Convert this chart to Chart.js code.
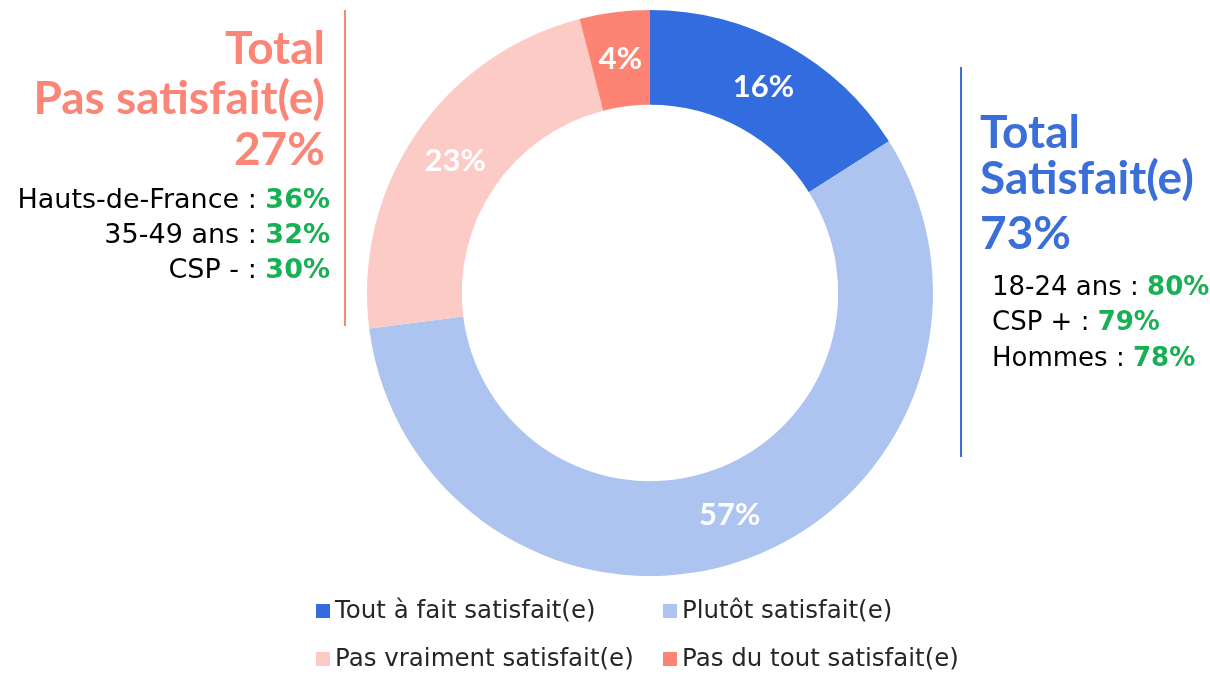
<!DOCTYPE html>
<html>
<head>
<meta charset="utf-8">
<script src="https://cdn.jsdelivr.net/npm/chart.js@4.4.1/dist/chart.umd.min.js"></script>
<style>
  html, body { margin: 0; padding: 0; background: #fff; }
  #wrap { width: 1210px; height: 674px; position: relative; }
</style>
</head>
<body>
<div id="wrap"><canvas id="satChart" width="1210" height="674"></canvas></div>
<script>
// data
const labels = ['Tout à fait satisfait(e)', 'Plutôt satisfait(e)', 'Pas vraiment satisfait(e)', 'Pas du tout satisfait(e)'];
const values = [16, 57, 23, 4];
const colors = ['#336CDE', '#ADC4F1', '#FDCBC5', '#FD8474'];

const totalSatLines = ['Total', 'Satisfait(e)', '73%'];
const totalPasLines = ['Total', 'Pas satisfait(e)', '27%'];
const satDetails = [['18-24 ans : ', '80%'], ['CSP + : ', '79%'], ['Hommes : ', '78%']];
const pasDetails = [['Hauts-de-France : ', '36%'], ['35-49 ans : ', '32%'], ['CSP - : ', '30%']];

const TITLE_FONT = 'Lato, "DejaVu Sans", sans-serif';
const BODY_FONT = '"DejaVu Sans", sans-serif';
const GREEN = '#17B055';

// percent labels inside the ring
const sliceLabels = {
    id: 'sliceLabels',
    afterDatasetsDraw(chart) {
        let ctx = chart.ctx;
        let meta = chart.getDatasetMeta(0);
        ctx.save();
        ctx.fillStyle = '#fff';
        ctx.font = 'bold 31px ' + TITLE_FONT;
        ctx.textAlign = 'center';
        ctx.textBaseline = 'middle';
        meta.data.forEach((arc, i) => {
            let p = arc.getCenterPoint();
            ctx.fillText(values[i] + '%', p.x, p.y);
        });
        ctx.restore();
    }
};

// side blocks + legend
const sideText = {
    id: 'sideText',
    afterDraw(chart) {
        let ctx = chart.ctx;
        ctx.save();

        // separators
        ctx.lineWidth = 2;
        ctx.strokeStyle = '#FB8577';
        ctx.beginPath(); ctx.moveTo(345, 10); ctx.lineTo(345, 326); ctx.stroke();
        ctx.strokeStyle = '#3A6ED9';
        ctx.beginPath(); ctx.moveTo(961, 67); ctx.lineTo(961, 457); ctx.stroke();

        // left block
        ctx.font = 'bold 46px ' + TITLE_FONT;
        ctx.fillStyle = '#FB8577';
        ctx.textAlign = 'right';
        ctx.textBaseline = 'alphabetic';
        [64, 114, 165].forEach((y, i) => ctx.fillText(totalPasLines[i], 325, y));

        [208, 243, 278].forEach((y, i) => {
            let d = pasDetails[i];
            ctx.font = 'bold 27px ' + BODY_FONT;
            let w = ctx.measureText(d[1]).width;
            ctx.fillStyle = GREEN;
            ctx.fillText(d[1], 330, y);
            ctx.font = '27px ' + BODY_FONT;
            ctx.fillStyle = '#000';
            ctx.fillText(d[0], 330 - w, y);
        });

        // right block
        ctx.textAlign = 'left';
        ctx.font = 'bold 46px ' + TITLE_FONT;
        ctx.fillStyle = '#3A6ED9';
        [148, 194, 249].forEach((y, i) => ctx.fillText(totalSatLines[i], 980, y));

        [295, 330, 366].forEach((y, i) => {
            let d = satDetails[i];
            ctx.font = '26px ' + BODY_FONT;
            ctx.fillStyle = '#000';
            ctx.fillText(d[0], 992, y);
            let w = ctx.measureText(d[0]).width;
            ctx.font = 'bold 26px ' + BODY_FONT;
            ctx.fillStyle = GREEN;
            ctx.fillText(d[1], 992 + w, y);
        });

        // legend, 2 columns
        let cols = [316, 663];
        let rows = [611, 659];
        ctx.font = '24.5px ' + BODY_FONT;
        ctx.textBaseline = 'middle';
        labels.forEach((lab, i) => {
            let x = cols[i % 2];
            let y = rows[Math.floor(i / 2)];
            ctx.fillStyle = colors[i];
            ctx.fillRect(x, y - 7, 14, 14);
            ctx.fillStyle = '#262626';
            ctx.fillText(lab, x + 19, y + 1);
        });

        ctx.restore();
    }
};

new Chart(document.getElementById('satChart').getContext('2d'), {
    type: 'doughnut',
    data: {
        labels: labels,
        datasets: [{
            data: values,
            backgroundColor: colors,
            borderWidth: 0
        }]
    },
    options: {
        responsive: false,
        animation: false,
        cutout: '66.5%',
        layout: {
            padding: { left: 200, right: 110, top: 10, bottom: 98 }
        },
        plugins: {
            legend: { display: false },
            tooltip: { enabled: false }
        }
    },
    plugins: [sliceLabels, sideText]
});
</script>
</body>
</html>
